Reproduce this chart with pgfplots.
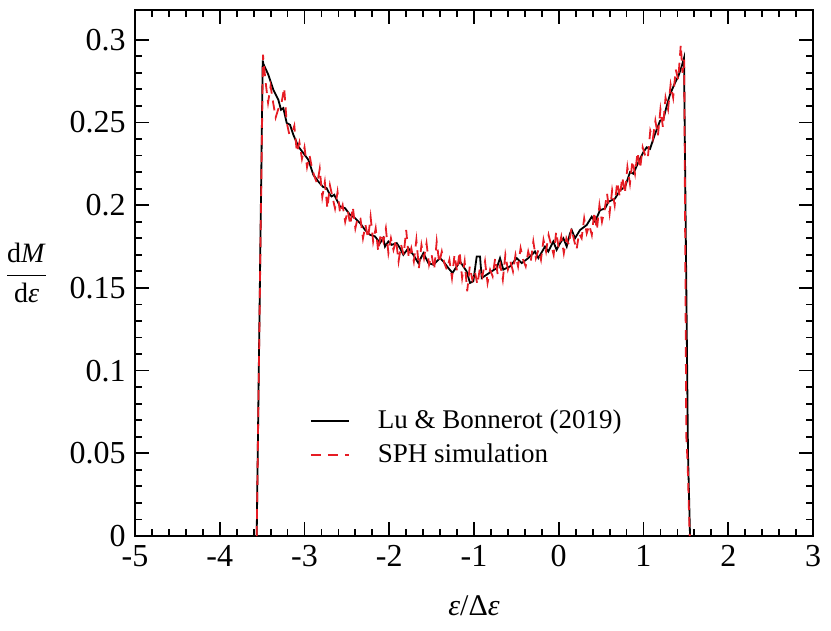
\documentclass[border=0pt]{standalone}
\usepackage{fontspec}
\setmainfont{Liberation Serif}
\usepackage{pgfplots}
\pgfplotsset{compat=1.18}
\usetikzlibrary{calc}
\definecolor{sphred}{RGB}{230,28,36}
\begin{document}
\fontsize{13.5}{16}\selectfont
\begin{tikzpicture}
\begin{axis}[
  name=ax,
  width=339pt, height=263pt, scale only axis,
  xmin=-5, xmax=3, ymin=0, ymax=0.318,
  xtick distance=1, ytick distance=0.05,
  minor x tick num=4, minor y tick num=4,
  tick align=inside, tick pos=both,
  major tick length=7pt, minor tick length=3.5pt,
  axis line style={line width=1pt},
  every tick/.style={line width=0.9pt, black},
  scaled y ticks=false,
  /pgf/number format/assume math mode=true,
  ticklabel style={font=\fontsize{16}{19}\selectfont},
  yticklabel style={/pgf/number format/fixed, /pgf/number format/precision=2},
  every axis x label/.style={at={(axis description cs:0.5,0)}, anchor=center, yshift=-35pt},
  every axis y label/.style={at={(axis description cs:-0.16,0.5)}, anchor=center},
  xlabel={\fontsize{15}{18}\selectfont\textit{ε}/Δ\textit{ε}},
  ylabel={\fontsize{14}{17}\selectfont$\displaystyle\frac{\mbox{d\textit{M}}}{\mbox{d\textit{ε}}}$},
  legend style={at={(axis cs:-2.94,0.079)}, anchor=north west, draw=none, fill=none, inner sep=0pt, row sep=1.5pt,
    nodes={anchor=west}},
  legend cell align=left,
  legend image code/.code={\draw[#1] (0pt,0pt) -- (19pt,0pt); \path (31pt,0pt);},
]
\addplot[black, line width=0.9pt] coordinates {
(-3.564,0) (-3.493,0.2875) (-3.486,0.2855) (-3.427,0.2789) (-3.368,0.2698) (-3.309,0.2638)
(-3.277,0.2577) (-3.250,0.2587) (-3.210,0.2497) (-3.171,0.2486) (-3.132,0.2426) (-3.073,0.2355)
(-3.014,0.2315) (-2.955,0.2275) (-2.896,0.2184) (-2.837,0.2143) (-2.780,0.2110) (-2.739,0.2103)
(-2.699,0.2063) (-2.680,0.2053) (-2.649,0.2063) (-2.581,0.1992) (-2.522,0.1982) (-2.463,0.1942)
(-2.404,0.1922) (-2.345,0.1892) (-2.286,0.1851) (-2.227,0.1821) (-2.168,0.1811) (-2.109,0.1771)
(-2.070,0.1801) (-2.050,0.1750) (-2.011,0.178) (-1.971,0.176) (-1.912,0.1771) (-1.873,0.174)
(-1.834,0.170) (-1.775,0.174) (-1.716,0.170) (-1.657,0.165) (-1.598,0.171) (-1.539,0.165)
(-1.480,0.164) (-1.401,0.168) (-1.362,0.166) (-1.303,0.162) (-1.254,0.159) (-1.165,0.166)
(-1.087,0.160) (-1.047,0.153) (-1.008,0.154) (-0.968,0.169) (-0.929,0.169) (-0.909,0.156)
(-0.850,0.158) (-0.791,0.160) (-0.732,0.162) (-0.693,0.168) (-0.654,0.161) (-0.575,0.163)
(-0.496,0.168) (-0.437,0.165) (-0.359,0.168) (-0.280,0.172) (-0.241,0.168) (-0.162,0.175)
(-0.123,0.172) (-0.064,0.178) (-0.025,0.173) (0.015,0.177) (0.055,0.180) (0.094,0.175)
(0.133,0.183) (0.153,0.185) (0.192,0.180) (0.251,0.185) (0.330,0.188) (0.389,0.193)
(0.428,0.190) (0.487,0.197) (0.546,0.198) (0.585,0.202) (0.664,0.204) (0.723,0.209)
(0.782,0.211) (0.841,0.220) (0.880,0.219) (0.939,0.226) (0.998,0.232) (1.038,0.235)
(1.077,0.234) (1.136,0.243) (1.195,0.251) (1.234,0.252) (1.274,0.260) (1.313,0.267)
(1.372,0.274) (1.411,0.278) (1.451,0.284) (1.478,0.289) (1.525,0.05) (1.549,0)
};
\addlegendentry{Lu \& Bonnerot (2019)}
\addplot[sphred, line width=0.9pt, dash pattern=on 5pt off 3.5pt] coordinates {
(-3.564,0) (-3.49,0.291) (-3.46,0.275) (-3.43,0.262) (-3.40,0.272) (-3.37,0.262) (-3.34,0.253)
(-3.31,0.258) (-3.27,0.262) (-3.24,0.271) (-3.21,0.250) (-3.18,0.243) (-3.15,0.243) (-3.12,0.248)
(-3.09,0.232) (-3.06,0.238) (-3.03,0.228) (-3.00,0.235) (-2.97,0.223) (-2.94,0.230) (-2.91,0.222)
(-2.88,0.217) (-2.85,0.213) (-2.82,0.222) (-2.79,0.205) (-2.76,0.214) (-2.73,0.198) (-2.70,0.212)
(-2.67,0.205) (-2.64,0.198) (-2.61,0.208) (-2.58,0.195) (-2.55,0.200) (-2.52,0.190) (-2.49,0.197)
(-2.46,0.188) (-2.43,0.199) (-2.40,0.186) (-2.37,0.193) (-2.34,0.192) (-2.31,0.180) (-2.28,0.188)
(-2.25,0.180) (-2.22,0.193) (-2.19,0.178) (-2.16,0.186) (-2.13,0.172) (-2.10,0.183) (-2.07,0.178)
(-2.04,0.186) (-2.01,0.171) (-1.98,0.180) (-1.95,0.173) (-1.92,0.179) (-1.89,0.166) (-1.86,0.176)
(-1.83,0.170) (-1.80,0.185) (-1.77,0.168) (-1.74,0.174) (-1.71,0.166) (-1.68,0.179) (-1.65,0.162)
(-1.62,0.176) (-1.59,0.168) (-1.56,0.177) (-1.53,0.164) (-1.50,0.170) (-1.47,0.161) (-1.44,0.178)
(-1.41,0.165) (-1.38,0.172) (-1.35,0.165) (-1.32,0.161) (-1.29,0.167) (-1.26,0.156) (-1.23,0.170)
(-1.20,0.160) (-1.17,0.172) (-1.14,0.156) (-1.11,0.166) (-1.08,0.148) (-1.05,0.163) (-1.02,0.155)
(-0.99,0.160) (-0.96,0.152) (-0.93,0.162) (-0.90,0.157) (-0.87,0.166) (-0.84,0.153) (-0.81,0.161)
(-0.78,0.157) (-0.75,0.168) (-0.72,0.158) (-0.69,0.164) (-0.66,0.155) (-0.63,0.170) (-0.60,0.161)
(-0.57,0.166) (-0.54,0.160) (-0.51,0.170) (-0.48,0.163) (-0.45,0.174) (-0.42,0.167) (-0.39,0.163)
(-0.36,0.172) (-0.33,0.166) (-0.30,0.178) (-0.27,0.168) (-0.24,0.173) (-0.21,0.167) (-0.18,0.179)
(-0.15,0.172) (-0.12,0.182) (-0.09,0.176) (-0.06,0.170) (-0.03,0.184) (0.00,0.174) (0.03,0.181)
(0.06,0.171) (0.09,0.180) (0.12,0.176) (0.15,0.186) (0.18,0.179) (0.21,0.173) (0.24,0.183)
(0.27,0.180) (0.30,0.192) (0.33,0.183) (0.36,0.188) (0.39,0.182) (0.42,0.196) (0.45,0.185)
(0.48,0.200) (0.51,0.190) (0.54,0.197) (0.57,0.207) (0.60,0.195) (0.63,0.209) (0.66,0.200)
(0.69,0.214) (0.72,0.205) (0.75,0.217) (0.78,0.207) (0.81,0.223) (0.84,0.213) (0.87,0.227)
(0.90,0.219) (0.93,0.232) (0.96,0.222) (0.99,0.235) (1.02,0.230) (1.05,0.228) (1.08,0.245)
(1.11,0.240) (1.14,0.251) (1.17,0.242) (1.20,0.258) (1.23,0.247) (1.26,0.265) (1.29,0.258)
(1.32,0.273) (1.35,0.265) (1.38,0.282) (1.41,0.276) (1.44,0.297) (1.46,0.280) (1.48,0.288)
(1.505,0.06) (1.52,0.045) (1.545,0)
};
\addlegendentry{SPH simulation}
\end{axis}
\pgfresetboundingbox
\path ($(ax.south west)+(-67.5pt,-47pt)$) rectangle ($(ax.north east)+(9pt,5pt)$);
\end{tikzpicture}
\end{document}
